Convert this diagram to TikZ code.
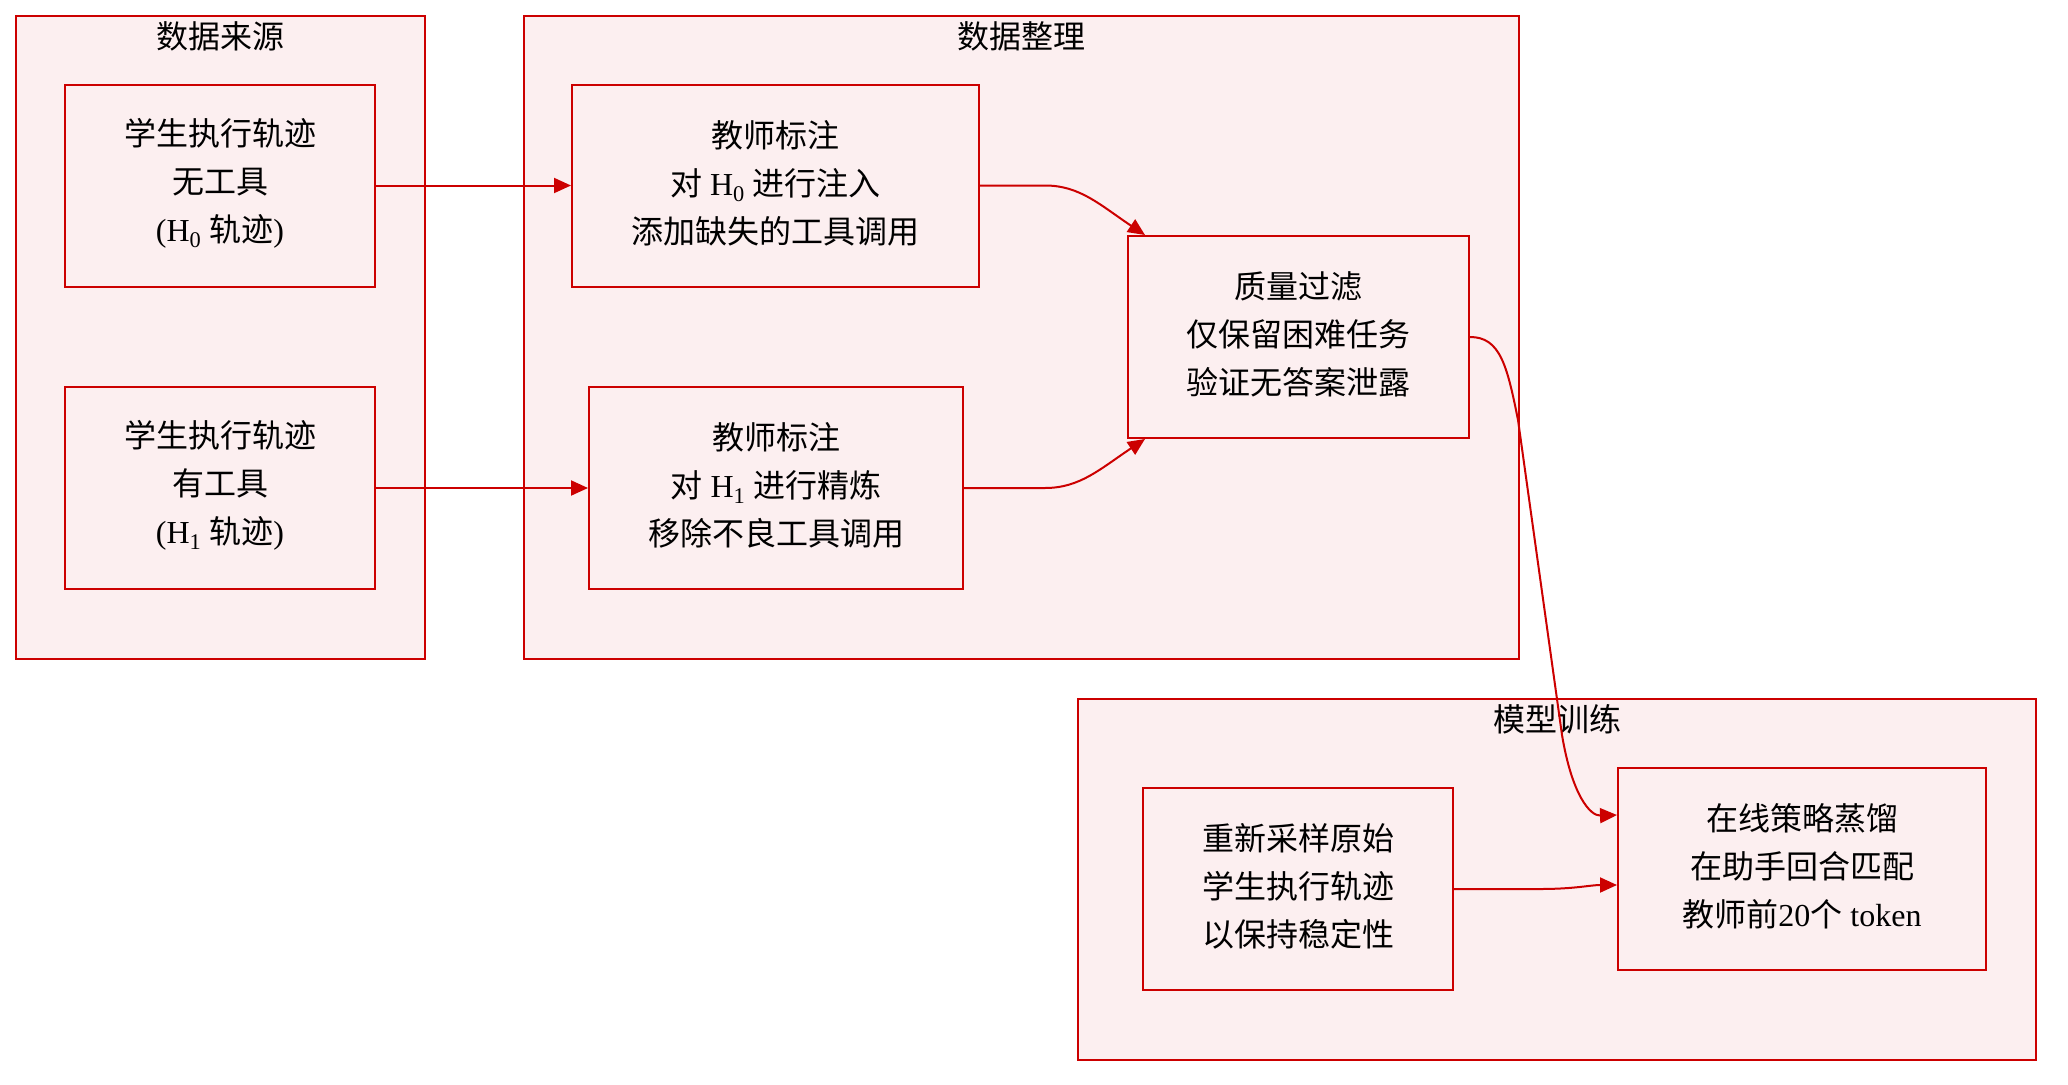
\documentclass[tikz,border=0pt]{standalone}
\usepackage{fontspec}
\setmainfont{Liberation Serif}
\newfontfamily\cjk{Noto Sans CJK SC}
\usetikzlibrary{arrows.meta,calc}
\definecolor{boxfill}{RGB}{252,239,240}
\definecolor{boxline}{RGB}{204,0,0}
\tikzset{
  cluster/.style={draw=boxline,fill=boxfill,line width=2pt},
  proc/.style={draw=boxline,fill=boxfill,line width=2pt,inner sep=0pt,
    minimum height=202pt},
  txt/.style={label={[inner sep=0pt,yshift=2.5pt,align=center,
    font=\fontsize{32}{48}\selectfont]center:#1}},
  ctitle/.style={inner sep=0pt,font=\fontsize{32}{48}\selectfont\cjk},
  edge/.style={draw=boxline,line width=2pt,-{Triangle[length=17pt,width=15pt]}}
}
\begin{document}
\begin{tikzpicture}[x=1pt,y=-1pt]
\useasboundingbox (0,0) rectangle (2068,1084);
% clusters
\draw[cluster] (16,16) rectangle (425,659);
\draw[cluster] (524,16) rectangle (1519,659);
\draw[cluster] (1078,699) rectangle (2036,1060);
\node[ctitle] (t1) at (220.5,36) {数据来源};
\node[ctitle] (t2) at (1021.5,36) {数据整理};
\node[ctitle] (t3) at (1557,719) {模型训练};
% nodes
\node[proc,minimum width=310pt,
  txt={{\cjk 学生执行轨迹}\\{\cjk 无工具}\\(H\textsubscript{0} {\cjk 轨迹})}] (A) at (220,185.5) {};
\node[proc,minimum width=310pt,
  txt={{\cjk 学生执行轨迹}\\{\cjk 有工具}\\(H\textsubscript{1} {\cjk 轨迹})}] (B) at (220,488) {};
\node[proc,minimum width=407pt,
  txt={{\cjk 教师标注}\\{\cjk 对} H\textsubscript{0} {\cjk 进行注入}\\{\cjk 添加缺失的工具调用}}] (C) at (775.5,185.5) {};
\node[proc,minimum width=374pt,
  txt={{\cjk 教师标注}\\{\cjk 对} H\textsubscript{1} {\cjk 进行精炼}\\{\cjk 移除不良工具调用}}] (D) at (776,488) {};
\node[proc,minimum width=341pt,
  txt={{\cjk 质量过滤}\\{\cjk 仅保留困难任务}\\{\cjk 验证无答案泄露}}] (E) at (1298.5,337) {};
\node[proc,minimum width=310pt,
  txt={{\cjk 重新采样原始}\\{\cjk 学生执行轨迹}\\{\cjk 以保持稳定性}}] (F) at (1298,889) {};
\node[proc,minimum width=368pt,
  txt={{\cjk 在线策略蒸馏}\\{\cjk 在助手回合匹配}\\{\cjk 教师前}20{\cjk 个} token}] (G) at (1802,869) {};
% connector ends
\coordinate (Etop) at ($(E.north west)+(18,0)$);
\coordinate (Ebot) at ($(E.south west)+(18,0)$);
\coordinate (Gin1) at ($(G.north west)+(0,48)$);
\coordinate (Gin2) at ($(G.west)+(0,16)$);
% edges
\draw[edge] (A.east) -- (C.west);
\draw[edge] (B.east) -- (D.west);
\draw[edge] (C.east) -- (1045,185.5) .. controls (1080,185.5) and (1100,205) .. (Etop);
\draw[edge] (D.east) -- (1045,488) .. controls (1080,488) and (1100,469) .. (Ebot);
\draw[edge] (E.east) .. controls (1500,337) and (1507,365) .. (1518,420) -- (1562,735) .. controls (1572,795) and (1590,816) .. (Gin1);
\draw[edge] (F.east) -- (1540,889) .. controls (1575,889) and (1590,885) .. (Gin2);
\end{tikzpicture}
\end{document}
